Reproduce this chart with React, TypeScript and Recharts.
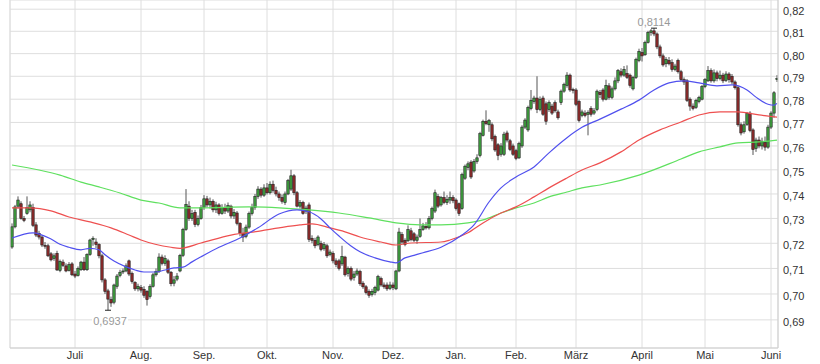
import React from 'react';
import {
  ComposedChart,
  Bar,
  Line,
  XAxis,
  YAxis,
  CartesianGrid,
  ReferenceLine,
  ReferenceDot
} from 'recharts';

// Month labels and the candle index where each month starts
const monthLabels = ['Juli', 'Aug.', 'Sep.', 'Okt.', 'Nov.', 'Dez.', 'Jan.', 'Feb.', 'März', 'April', 'Mai', 'Juni'];
const monthStarts = [21, 43, 64, 85, 107, 127, 148, 168, 188, 210, 231, 253];

const priceTicks = [0.69, 0.7, 0.71, 0.72, 0.73, 0.74, 0.75, 0.76, 0.77, 0.78, 0.79, 0.8, 0.81, 0.82];

// Daily candles: [open, high, low, close] in 1/10000
const candles = [
  [7185,7280,7178,7266],[7266,7355,7260,7347],[7350,7390,7340,7375],[7360,7370,7295,7300],
  [7300,7310,7285,7292],[7320,7390,7315,7345],[7335,7370,7325,7355],[7345,7360,7265,7272],
  [7274,7285,7225,7233],[7240,7250,7215,7225],[7225,7232,7185,7193],[7192,7205,7178,7188],
  [7190,7198,7145,7150],[7158,7165,7128,7134],[7140,7160,7130,7150],[7160,7170,7090,7094],
  [7092,7135,7085,7128],[7125,7135,7105,7112],[7110,7120,7085,7090],[7092,7125,7088,7115],
  [7118,7125,7070,7075],[7078,7090,7062,7070],[7072,7108,7068,7100],[7095,7130,7090,7125],
  [7125,7145,7090,7095],[7095,7160,7090,7155],[7155,7218,7150,7213],[7215,7228,7190,7220],
  [7205,7220,7180,7195],[7195,7200,7140,7150],[7150,7158,7045,7055],[7055,7062,7000,7010],
  [7012,7020,6937,6980],[6978,6990,6950,6965],[6968,7040,6960,7035],[7030,7078,7020,7070],
  [7072,7095,7065,7085],[7088,7100,7078,7090],[7090,7120,7085,7110],[7130,7135,7070,7078],
  [7080,7088,7040,7048],[7045,7050,7012,7020],[7020,7040,7010,7030],[7025,7035,7005,7015],
  [7018,7030,6985,6995],[7010,7015,6955,6978],[6990,7038,6982,7030],[7030,7082,7025,7075],
  [7075,7100,7068,7088],[7088,7160,7082,7145],[7145,7155,7112,7120],[7120,7152,7110,7140],
  [7130,7138,7078,7085],[7085,7090,7030,7040],[7042,7070,7030,7055],[7058,7082,7050,7070],
  [7090,7158,7085,7152],[7152,7262,7145,7256],[7256,7420,7250,7357],[7350,7370,7290,7300],
  [7300,7335,7290,7320],[7325,7335,7265,7275],[7275,7312,7268,7300],[7300,7355,7295,7345],
  [7345,7395,7335,7380],[7380,7392,7345,7355],[7355,7385,7340,7370],[7370,7378,7325,7335],
  [7335,7368,7322,7355],[7355,7362,7312,7320],[7320,7358,7315,7345],[7345,7360,7318,7330],
  [7330,7365,7322,7352],[7350,7356,7300,7310],[7310,7338,7298,7325],[7322,7330,7272,7280],
  [7280,7285,7228,7240],[7240,7262,7205,7225],[7228,7275,7220,7265],[7265,7328,7258,7320],
  [7320,7360,7312,7345],[7345,7400,7335,7390],[7390,7432,7380,7420],[7420,7428,7385,7395],
  [7395,7440,7388,7425],[7425,7445,7398,7405],[7405,7452,7398,7440],[7440,7455,7405,7415],
  [7415,7430,7390,7400],[7400,7410,7372,7385],[7385,7398,7360,7370],[7365,7410,7355,7400],
  [7400,7462,7395,7455],[7420,7500,7412,7475],[7475,7482,7395,7405],[7405,7412,7345,7350],
  [7350,7375,7340,7365],[7365,7372,7315,7320],[7330,7352,7318,7342],[7355,7365,7205,7215],
  [7220,7232,7200,7212],[7212,7222,7180,7190],[7195,7232,7188,7225],[7200,7210,7168,7175],
  [7178,7205,7170,7195],[7190,7198,7142,7150],[7155,7175,7148,7165],[7160,7168,7120,7130],
  [7130,7140,7105,7115],[7130,7138,7092,7100],[7118,7190,7110,7148],[7145,7150,7068,7075],
  [7080,7108,7068,7100],[7100,7108,7050,7058],[7065,7090,7052,7078],[7078,7100,7070,7090],
  [7088,7095,7032,7040],[7042,7050,7020,7028],[7028,7035,6998,7005],[7010,7018,6985,6995],
  [6998,7020,6990,7010],[7005,7032,6995,7025],[7015,7075,7010,7068],[7060,7068,7028,7035],
  [7035,7045,7020,7028],[7035,7045,7012,7020],[7022,7048,7015,7035],[7035,7045,7015,7025],
  [7020,7095,7015,7090],[7090,7262,7085,7245],[7235,7245,7198,7205],[7212,7220,7188,7195],
  [7210,7272,7205,7255],[7250,7262,7208,7215],[7238,7245,7205,7212],[7212,7235,7198,7225],
  [7228,7300,7222,7255],[7255,7282,7250,7270],[7268,7285,7255,7262],[7262,7310,7255,7300],
  [7300,7348,7292,7340],[7330,7418,7322,7405],[7390,7400,7342,7350],[7355,7392,7348,7385],
  [7385,7410,7358,7365],[7365,7395,7355,7378],[7375,7410,7360,7385],[7385,7395,7362,7372],
  [7375,7382,7332,7340],[7360,7365,7310,7320],[7340,7488,7335,7480],[7465,7522,7458,7515],
  [7510,7535,7498,7525],[7532,7540,7462,7470],[7495,7545,7488,7535],[7535,7565,7525,7550],
  [7560,7660,7552,7652],[7645,7712,7640,7705],[7705,7752,7688,7695],[7690,7715,7660,7708],
  [7690,7700,7620,7630],[7640,7648,7575,7583],[7605,7612,7540,7560],[7565,7612,7555,7600],
  [7565,7660,7558,7650],[7655,7665,7615,7625],[7622,7630,7578,7585],[7600,7610,7558,7565],
  [7580,7588,7540,7548],[7550,7618,7545,7610],[7600,7688,7592,7680],[7680,7718,7672,7710],
  [7668,7772,7660,7765],[7760,7840,7752,7795],[7790,7815,7780,7805],[7805,7900,7740,7755],
  [7755,7812,7748,7800],[7805,7815,7728,7735],[7780,7790,7690,7705],[7755,7795,7745,7785],
  [7770,7780,7732,7740],[7785,7795,7742,7750],[7745,7755,7712,7720],[7785,7842,7775,7835],
  [7835,7872,7828,7865],[7860,7918,7850,7905],[7905,7912,7832,7840],[7842,7850,7825,7838],
  [7840,7848,7770,7778],[7790,7798,7700,7708],[7730,7755,7722,7745],[7740,7752,7722,7730],
  [7735,7752,7645,7742],[7760,7770,7725,7735],[7740,7762,7732,7750],[7755,7842,7748,7835],
  [7830,7840,7805,7820],[7840,7848,7790,7800],[7800,7885,7795,7860],[7858,7870,7798,7808],
  [7808,7855,7800,7845],[7845,7895,7838,7880],[7880,7932,7870,7925],[7920,7935,7895,7905],
  [7905,7945,7898,7930],[7912,7948,7888,7895],[7905,7912,7850,7860],[7845,7902,7838,7895],
  [7895,7982,7888,7975],[7970,8022,7962,8010],[8005,8025,7965,7990],[7995,8058,7990,8050],
  [8050,8102,8045,8095],[8095,8110,8080,8102],[8102,8114,8078,8088],[8088,8095,8020,8030],
  [8030,8040,7980,7990],[7990,8000,7942,7950],[7955,7985,7940,7975],[7970,7985,7948,7955],
  [7960,7975,7920,7930],[7930,7955,7922,7945],[7970,7978,7912,7920],[7920,7928,7878,7885],
  [7885,7895,7862,7875],[7880,7888,7788,7795],[7800,7808,7750,7770],[7770,7782,7752,7760],
  [7765,7802,7758,7795],[7790,7815,7782,7808],[7800,7862,7795,7855],[7855,7892,7848,7885],
  [7880,7945,7875,7925],[7925,7935,7872,7880],[7880,7930,7872,7915],[7915,7925,7878,7890],
  [7890,7925,7882,7905],[7905,7915,7870,7880],[7882,7922,7875,7910],[7910,7918,7872,7885],
  [7900,7910,7865,7875],[7875,7882,7842,7850],[7850,7858,7682,7690],[7690,7700,7645,7655],
  [7660,7705,7652,7690],[7692,7745,7685,7738],[7740,7748,7658,7665],[7668,7675,7562,7585],
  [7590,7635,7575,7625],[7625,7640,7590,7600],[7600,7635,7585,7620],[7615,7640,7580,7595],
  [7595,7690,7588,7680],[7680,7748,7672,7740],[7740,7835,7720,7828],[7885,7905,7875,7890]
];

// Moving averages read at sample days: [candle index, value]
const maShort = [
  [0,.7221],[7,.7242],[13,.7217],[16,.7196],[19,.7184],[23,.7174],[26,.718],[29,.7174],
  [31,.7154],[34,.7129],[38,.7106],[41,.7094],[44,.7086],[48,.7086],[51,.7094],[54,.7102],
  [57,.7105],[60,.7126],[63,.7146],[69,.7184],[76,.7221],[82,.7262],[89,.7318],[95,.7335],
  [99,.7327],[103,.7298],[106,.7262],[109,.7229],[113,.7189],[116,.7166],[121,.7142],[126,.7126],
  [128,.7122],[131,.7142],[134,.7152],[137,.7162],[143,.7184],[150,.7233],[154,.7274],[159,.7367],
  [163,.7425],[168,.747],[174,.7512],[179,.7571],[185,.7635],[190,.7679],[196,.7714],[203,.7757],
  [209,.7796],[214,.784],[219,.7871],[224,.788],[229,.7871],[235,.7858],[240,.7862],[245,.784],
  [248,.7809],[252,.7778],[254,.7774],[255,.7782]
];
const maMid = [
  [0,.7343],[6,.7343],[13,.7331],[19,.7306],[26,.7286],[33,.7262],[39,.7233],[43,.7213],
  [53,.7184],[56,.718],[63,.7201],[73,.7233],[83,.725],[89,.7262],[96,.7274],[100,.7278],
  [106,.7262],[111,.7246],[116,.7225],[123,.7205],[128,.7193],[133,.7201],[143,.7205],[146,.7213],
  [152,.7242],[157,.7282],[163,.7322],[168,.7347],[174,.7388],[179,.7425],[185,.7466],[190,.7499],
  [196,.7529],[203,.7575],[209,.7625],[216,.7668],[223,.7702],[229,.7732],[236,.7745],[242,.7745],
  [249,.7732],[255,.7723]
];
const maLong = [
  [0,.752],[9,.7499],[16,.7478],[23,.7449],[29,.7429],[36,.7404],[43,.7375],[49,.7363],
  [56,.7343],[63,.7343],[79,.7347],[89,.7343],[99,.7335],[109,.7322],[119,.7302],[128,.7282],
  [136,.7274],[143,.7274],[152,.7282],[157,.7294],[163,.7322],[168,.7343],[174,.7363],[179,.7388],
  [185,.7408],[190,.7425],[196,.7437],[209,.7478],[223,.7545],[229,.7575],[236,.7596],[242,.7613],
  [249,.7617],[255,.7625]
];

const periodHigh = { index: 214, value: 0.8114 };
const periodLow = { index: 32, value: 0.6937 };

const rows: any[] = candles.map((k, i) => ({
  i,
  o: k[0] / 10000,
  h: k[1] / 10000,
  l: k[2] / 10000,
  c: k[3] / 10000
}));
maShort.forEach(([i, v]) => { rows[i].maShort = v; });
maMid.forEach(([i, v]) => { rows[i].maMid = v; });
maLong.forEach(([i, v]) => { rows[i].maLong = v; });

const fmt = (v: number, d: number) => v.toFixed(d).replace('.', ',');
const FONT = '"Liberation Sans", Arial, sans-serif';

// Bar spans low..high; body drawn inside using the log scale
const Candle = (props: any) => {
  const { x, y, width, height, payload } = props;
  if (!payload) return null;
  const cx = Math.round(x + width / 2);
  const top = Math.min(y, y + height);
  const bot = Math.max(y, y + height);
  const lh = Math.log(payload.h);
  const span = lh - Math.log(payload.l);
  const py = (v: number) => (span > 0 ? top + ((bot - top) * (lh - Math.log(v))) / span : top);
  const up = payload.c >= payload.o;
  const yo = py(payload.o);
  const yc = py(payload.c);
  const bTop = Math.min(yo, yc);
  const bH = Math.max(Math.abs(yc - yo), 1);
  return (
    <g>
      <line x1={cx} x2={cx} y1={top} y2={bot} stroke="#555" strokeWidth={1} />
      <rect
        x={cx - 1.2}
        y={bTop}
        width={2.4}
        height={bH}
        fill={up ? '#3f9e3f' : '#8c2b2b'}
        stroke="#1e1e1e"
        strokeWidth={0.6}
      />
    </g>
  );
};

const Marker = (props: any, text: string, below: boolean) => {
  const { cx, cy } = props;
  if (cx == null || cy == null) return null;
  const ty = below ? cy + 15 : cy - 2.5;
  return (
    <g>
      <line x1={cx - 3} x2={cx + 3} y1={cy} y2={cy} stroke="#222" strokeWidth={1} />
      {below && <rect x={cx - 16} y={ty - 10} width={36} height={12} fill="#fff" />}
      <text x={below ? cx + 2 : cx} y={ty} textAnchor="middle" fontSize={11} fill="#999" fontFamily={FONT}>
        {text}
      </text>
    </g>
  );
};

const App = () => {
  return (
    <div style={{ position: 'absolute', left: 0, top: 0, background: '#fff' }}>
      <ComposedChart width={820} height={364} data={rows} margin={{ top: 0, right: 0, left: 10, bottom: 0 }}>
        <CartesianGrid stroke="#dedede" strokeWidth={1} />
        <XAxis
          dataKey="i"
          type="number"
          domain={[-0.667, 255.333]}
          allowDataOverflow
          ticks={monthStarts}
          interval={0}
          tickFormatter={(v: number) => monthLabels[monthStarts.indexOf(v)] ?? ''}
          height={16}
          tickSize={0}
          tickMargin={3}
          axisLine={{ stroke: '#cfcfcf' }}
          tick={{ fontSize: 11, fill: '#333', fontFamily: FONT }}
        />
        <YAxis
          orientation="right"
          type="number"
          scale="log"
          domain={[0.6793, 0.8242]}
          allowDataOverflow
          ticks={priceTicks}
          interval={0}
          tickFormatter={(v: number) => fmt(v, 2)}
          width={42}
          tickSize={0}
          tickMargin={5}
          axisLine={{ stroke: '#cfcfcf' }}
          tick={{ fontSize: 11, fill: '#333', fontFamily: FONT, dy: 2 }}
        />
        <ReferenceLine x={-0.667} stroke="#dedede" />
        <Bar
          dataKey={(d: any) => [d.l, d.h]}
          barSize={3}
          shape={Candle}
          isAnimationActive={false}
        />
        <Line dataKey="maLong" type="monotone" stroke="#5fe05f" strokeWidth={1.2} dot={false} connectNulls isAnimationActive={false} />
        <Line dataKey="maMid" type="monotone" stroke="#ee5050" strokeWidth={1.2} dot={false} connectNulls isAnimationActive={false} />
        <Line dataKey="maShort" type="monotone" stroke="#5050ee" strokeWidth={1.2} dot={false} connectNulls isAnimationActive={false} />
        <ReferenceDot
          x={periodHigh.index}
          y={periodHigh.value}
          r={0}
          shape={(p: any) => Marker(p, fmt(periodHigh.value, 4), false)}
        />
        <ReferenceDot
          x={periodLow.index}
          y={periodLow.value}
          r={0}
          shape={(p: any) => Marker(p, fmt(periodLow.value, 4), true)}
        />
      </ComposedChart>
    </div>
  );
};

export default App;
